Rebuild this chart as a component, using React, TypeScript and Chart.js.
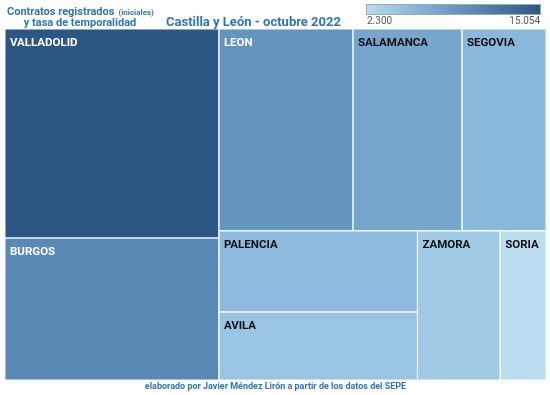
import { useEffect, useRef } from 'react';
import { Chart, registerables } from 'chart.js';

Chart.register(...registerables);

// ---- data ----
const provinces = ['VALLADOLID', 'BURGOS', 'LEON', 'SALAMANCA', 'SEGOVIA', 'PALENCIA', 'AVILA', 'ZAMORA', 'SORIA'];
const contracts = [15054, 10230, 9110, 7410, 5710, 5430, 4550, 4160, 2300];
const colorMin = 2300;
const colorMax = 15054;
const legendTickLabels = ['2.300', '15.054'];
const subtitleLines = ['Contratos registrados', '(iniciales)', 'y tasa de temporalidad'];
const titleText = 'Castilla y León - octubre 2022';
const footerText = 'elaborado por Javier Méndez Lirón a partir de los datos del SEPE';

// ---- style ----
const DOMAIN_W = 541;
const DOMAIN_H = 351;
const BLUE = '#2e75b6';
const colorStops: [number, [number, number, number]][] = [
  [0, [186, 221, 240]],
  [0.25, [141, 186, 221]],
  [0.5, [104, 153, 195]],
  [1, [44, 87, 132]],
];

function colorAt(t: number): [number, number, number] {
  t = Math.max(0, Math.min(1, t));
  for (let i = 1; i < colorStops.length; i++) {
    const [t1, c1] = colorStops[i];
    const [t0, c0] = colorStops[i - 1];
    if (t <= t1) {
      const f = (t - t0) / (t1 - t0);
      return [0, 1, 2].map((k) => Math.round(c0[k] + (c1[k] - c0[k]) * f)) as [number, number, number];
    }
  }
  return colorStops[colorStops.length - 1][1];
}
const rgb = (c: [number, number, number]) => `rgb(${c[0]},${c[1]},${c[2]})`;
const tOf = (v: number) => (v - colorMin) / (colorMax - colorMin);

type Rect = { x0: number; y0: number; x1: number; y1: number; i: number };

// squarified treemap (golden-ratio variant)
function squarify(values: number[], x0: number, y0: number, x1: number, y1: number): Rect[] {
  const ratio = (1 + Math.sqrt(5)) / 2;
  const out: Rect[] = [];
  let value = values.reduce((a, b) => a + b, 0);
  let i0 = 0;
  let i1 = 0;
  const n = values.length;
  while (i0 < n) {
    const dx = x1 - x0;
    const dy = y1 - y0;
    let sumValue = values[i1++];
    let minValue = sumValue;
    let maxValue = sumValue;
    const alpha = Math.max(dy / dx, dx / dy) / (value * ratio);
    let beta = sumValue * sumValue * alpha;
    let minRatio = Math.max(maxValue / beta, beta / minValue);
    for (; i1 < n; ++i1) {
      const nv = values[i1];
      sumValue += nv;
      if (nv < minValue) minValue = nv;
      if (nv > maxValue) maxValue = nv;
      beta = sumValue * sumValue * alpha;
      const newRatio = Math.max(maxValue / beta, beta / minValue);
      if (newRatio > minRatio) {
        sumValue -= nv;
        break;
      }
      minRatio = newRatio;
    }
    if (dx < dy) {
      const yb = y0 + (dy * sumValue) / value;
      let x = x0;
      for (let i = i0; i < i1; i++) {
        const w = (dx * values[i]) / sumValue;
        out.push({ x0: x, y0, x1: x + w, y1: yb, i });
        x += w;
      }
      y0 = yb;
    } else {
      const xb = x0 + (dx * sumValue) / value;
      let y = y0;
      for (let i = i0; i < i1; i++) {
        const h = (dy * values[i]) / sumValue;
        out.push({ x0, y0: y, x1: xb, y1: y + h, i });
        y += h;
      }
      x0 = xb;
    }
    value -= sumValue;
    i0 = i1;
  }
  return out;
}

const cells = squarify(contracts, 0, 0, DOMAIN_W, DOMAIN_H);

const treemapPlugin = {
  id: 'treemapCells',
  beforeDraw(chart: any) {
    const ctx = chart.ctx;
    ctx.save();
    ctx.fillStyle = '#ffffff';
    ctx.fillRect(0, 0, chart.width, chart.height);
    ctx.restore();
  },
  beforeDatasetsDraw(chart: any) {
    const ctx = chart.ctx;
    const xs = chart.scales.x;
    const ys = chart.scales.y;
    ctx.save();
    const pix = cells.map((r) => {
      const l = xs.getPixelForValue(r.x0);
      const rt = xs.getPixelForValue(r.x1);
      const t = ys.getPixelForValue(r.y0);
      const b = ys.getPixelForValue(r.y1);
      return { l, r: rt, t, b, i: r.i };
    });
    pix.forEach((p) => {
      ctx.fillStyle = rgb(colorAt(tOf(contracts[p.i])));
      ctx.fillRect(p.l, p.t, p.r - p.l, p.b - p.t);
    });
    ctx.strokeStyle = 'rgba(255,255,255,0.85)';
    ctx.lineWidth = 1.1;
    pix.forEach((p) => {
      ctx.strokeRect(p.l, p.t, p.r - p.l, p.b - p.t);
    });
    ctx.font = 'bold 11.5px Roboto';
    ctx.textBaseline = 'alphabetic';
    ctx.textAlign = 'left';
    pix.forEach((p) => {
      const t = tOf(contracts[p.i]);
      ctx.fillStyle = t > 0.45 ? '#ffffff' : '#111111';
      ctx.fillText(provinces[p.i], p.l + 5, p.t + 17);
    });
    ctx.restore();
  },
  afterDraw(chart: any) {
    const ctx = chart.ctx;
    const area = chart.chartArea;
    ctx.save();
    // header subtitle
    ctx.fillStyle = BLUE;
    ctx.textBaseline = 'alphabetic';
    ctx.textAlign = 'left';
    ctx.font = 'bold 11px Roboto';
    ctx.fillText(subtitleLines[0], 7, 15);
    const w0 = ctx.measureText(subtitleLines[0]).width;
    ctx.font = 'bold 8px Roboto';
    ctx.fillText(subtitleLines[1], 7 + w0 + 4, 15);
    ctx.font = 'bold 11px Roboto';
    ctx.textAlign = 'center';
    ctx.fillText(subtitleLines[2], 80, 26);
    // title
    ctx.textAlign = 'left';
    ctx.font = 'bold 13px Roboto';
    ctx.fillText(titleText, 166, 26);
    // colour legend
    const gx0 = 366;
    const gx1 = 541;
    const grad = ctx.createLinearGradient(gx0, 0, gx1, 0);
    colorStops.forEach(([t, c]) => grad.addColorStop(t, rgb(c)));
    ctx.fillStyle = grad;
    ctx.fillRect(gx0, 4, gx1 - gx0, 10);
    ctx.strokeStyle = '#a6a6a6';
    ctx.lineWidth = 1;
    ctx.strokeRect(gx0 + 0.5, 4.5, gx1 - gx0 - 1, 10);
    ctx.fillStyle = '#595959';
    ctx.font = '10px Roboto';
    ctx.textAlign = 'left';
    ctx.fillText(legendTickLabels[0], gx0 + 1, 24);
    ctx.textAlign = 'right';
    ctx.fillText(legendTickLabels[1], gx1 - 1, 24);
    // footer
    ctx.fillStyle = BLUE;
    ctx.font = 'bold 9px Roboto';
    ctx.textAlign = 'center';
    ctx.fillText(footerText, (area.left + area.right) / 2, 389);
    ctx.restore();
  },
};

export default function App() {
  const ref = useRef<HTMLCanvasElement | null>(null);
  useEffect(() => {
    if (!ref.current) return;
    const chart = new Chart(ref.current, {
      type: 'scatter',
      data: {
        datasets: [
          {
            label: 'Contratos',
            data: cells.map((r) => ({ x: (r.x0 + r.x1) / 2, y: (r.y0 + r.y1) / 2 })),
            pointRadius: 0,
            pointHoverRadius: 0,
          },
        ],
      },
      options: {
        responsive: false,
        animation: false,
        events: [],
        layout: { padding: { left: 5, right: 4, top: 29, bottom: 15 } },
        plugins: {
          legend: { display: false },
          title: { display: false },
          tooltip: { enabled: false },
        },
        scales: {
          x: { type: 'linear', min: 0, max: DOMAIN_W, display: false },
          y: { type: 'linear', min: 0, max: DOMAIN_H, reverse: true, display: false },
        },
      },
      plugins: [treemapPlugin],
    });
    return () => chart.destroy();
  }, []);
  return (
    <div style={{ position: 'absolute', left: 0, top: 0, width: 550, height: 395 }}>
      <canvas ref={ref} width={550} height={395} style={{ display: 'block' }} />
    </div>
  );
}
